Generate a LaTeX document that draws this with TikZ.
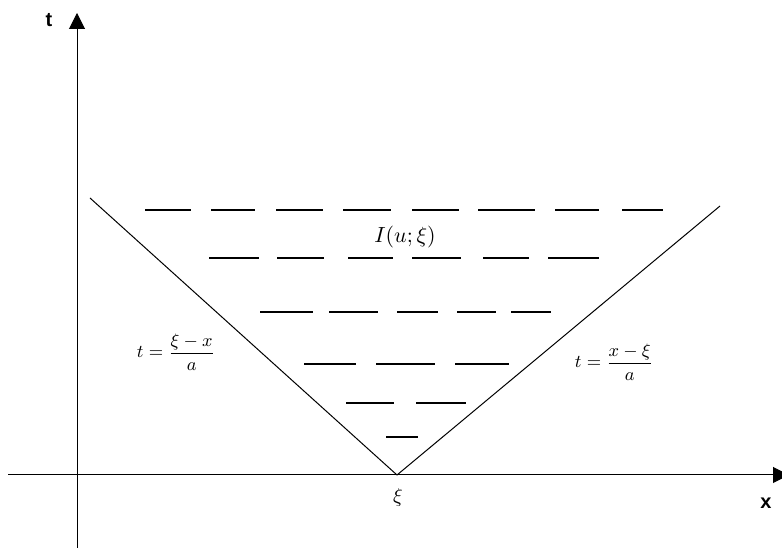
\documentclass[tikz,border=0pt]{standalone}
\usepackage{fontspec}
\usepackage{amsmath}
\usetikzlibrary{arrows.meta}
\newfontfamily\axisfont{Liberation Sans}
\tikzset{
  axis/.style={-{Triangle[length=8pt,width=8pt]},line width=.5pt},
  edge/.style={line width=.5pt},
  rung/.style={line width=1pt},
  axislabel/.style={font=\axisfont\bfseries\fontsize{10}{12}\selectfont,inner sep=0pt},
  formula/.style={font=\fontsize{9}{11}\selectfont,inner sep=0pt},
}
\newcommand{\rungrow}[2]{%
  \foreach \a/\b in {#2}{\draw[rung] (\a,#1) -- (\b,#1);}%
}

\begin{document}
\begin{tikzpicture}[x=.5pt,y=-.5pt]        % one unit per reference pixel, y down
\path[use as bounding box] (0,0) rectangle (782,549);

% axes
\coordinate (ybot) at (77,548);
\coordinate (ytop) at (77,13);
\coordinate (xleft) at (8,475);
\coordinate (xright) at (789,475);
\draw[axis] (ybot) -- (ytop);
\draw[axis] (xleft) -- (xright);
\node[axislabel] (tlab) at (49,20) {t};
\node[axislabel] (xlab) at (766,503) {x};

% the two characteristics meeting the axis at xi
\coordinate (xi) at (397,475);
\coordinate (lefttop) at (90,198);
\coordinate (righttop) at (720,206);
\draw[edge] (lefttop) -- (xi) -- (righttop);
\node (xilab) at (398,498) {$\xi$};

% hatched region between them
\rungrow{210}{145/191, 211/255, 276/323, 343/391, 412/459, 478/535, 555/599, 622/663}
\rungrow{258}{209/259, 277/324, 348/393, 412/461, 483/529, 548/599}
\rungrow{312}{260/313, 329/378, 397/438, 457/496, 511/551}
\rungrow{364}{304/356, 376/435, 455/509}
\rungrow{403}{346/394, 416/466}
\rungrow{437}{386/418}

\node[font=\fontsize{11}{13}\selectfont,fill=white,inner sep=1pt] (Ilab) at (405,237) {$I(u;\xi)$};
\node[formula] (lefteq) at (176,352) {$t=\dfrac{\xi-x}{a}$};
\node[formula] (righteq) at (614,362) {$t=\dfrac{x-\xi}{a}$};

\end{tikzpicture}
\end{document}
